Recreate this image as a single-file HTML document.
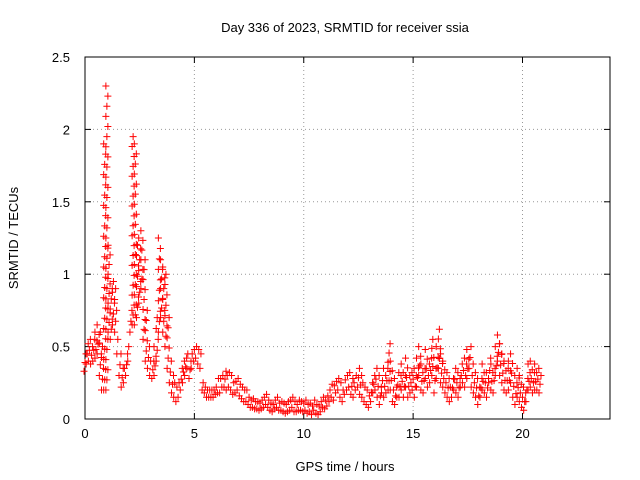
<!DOCTYPE html>
<html><head><meta charset="utf-8"><style>
body{margin:0;background:#fff}
svg{display:block;font-family:"Liberation Sans",sans-serif;font-size:13px}
</style></head><body>
<svg id="chart" width="640" height="480">
<text x="345" y="32" text-anchor="middle">Day 336 of 2023, SRMTID for receiver ssia</text>
<text x="345" y="471" text-anchor="middle">GPS time / hours</text>
<text transform="translate(18,238) rotate(-90)" text-anchor="middle">SRMTID / TECUs</text>
<g id="grid"></g><g id="axes"></g><g id="pts"></g>
</svg>
<script>
const xTicks=[0,5,10,15,20];
const yTicks=[0,0.5,1,1.5,2,2.5];
const yTickLabels=["0","0.5","1","1.5","2","2.5"];
const tStart=0, tStep=0.1;
const lowValues=[
0.33,0.38,0.4,0.38,0.4,0.42,0.45,0.3,0.2,0.2,
0.2,0.6,0.55,0.65,0.6,0.45,0.3,0.22,0.25,0.3,
0.4,0.6,0.65,0.65,0.7,0.8,0.9,0.55,0.4,0.35,
0.3,0.28,0.3,0.4,0.6,0.7,0.6,0.5,0.35,0.25,
0.18,0.15,0.12,0.15,0.2,0.25,0.3,0.35,0.28,0.35,
0.4,0.42,0.38,0.35,0.2,0.18,0.15,0.15,0.15,0.15,
0.17,0.18,0.18,0.22,0.22,0.2,0.22,0.2,0.17,0.18,
0.2,0.16,0.14,0.12,0.12,0.1,0.08,0.08,0.07,0.07,
0.06,0.07,0.08,0.1,0.08,0.06,0.05,0.07,0.08,0.06,
0.06,0.05,0.04,0.05,0.06,0.08,0.05,0.05,0.06,0.06,
0.05,0.06,0.04,0.05,0.03,0.06,0.04,0.03,0.05,0.08,
0.07,0.09,0.12,0.15,0.13,0.18,0.2,0.15,0.12,0.17,
0.2,0.22,0.17,0.15,0.2,0.22,0.17,0.15,0.12,0.1,
0.08,0.12,0.18,0.2,0.15,0.1,0.18,0.15,0.18,0.2,
0.2,0.12,0.1,0.15,0.15,0.2,0.15,0.22,0.15,0.18,
0.2,0.15,0.22,0.3,0.2,0.18,0.28,0.22,0.25,0.3,
0.18,0.28,0.35,0.25,0.22,0.18,0.15,0.12,0.15,0.2,
0.18,0.15,0.22,0.25,0.22,0.28,0.35,0.22,0.18,0.15,
0.1,0.15,0.2,0.18,0.15,0.25,0.2,0.18,0.3,0.4,
0.3,0.25,0.2,0.18,0.2,0.25,0.15,0.1,0.15,0.12,
0.08,0.06,0.12,0.2,0.22,0.18,0.2,0.2,0.18];
const highValues=[
0.45,0.52,0.55,0.5,0.55,0.6,0.65,0.6,0.5,1.9,
2.3,1.2,0.9,0.95,0.9,0.55,0.45,0.35,0.35,0.45,
0.5,0.75,1.95,1.9,1.2,1.25,1.3,1.1,0.75,0.5,
0.4,0.4,0.5,0.7,1.25,1.1,1.05,1.0,0.7,0.4,
0.3,0.25,0.22,0.25,0.35,0.4,0.42,0.45,0.4,0.45,
0.48,0.5,0.48,0.45,0.25,0.22,0.2,0.2,0.2,0.2,
0.22,0.28,0.28,0.3,0.33,0.3,0.32,0.3,0.25,0.26,
0.28,0.24,0.22,0.2,0.2,0.15,0.13,0.14,0.12,0.12,
0.11,0.13,0.15,0.17,0.13,0.11,0.1,0.13,0.15,0.11,
0.12,0.11,0.1,0.12,0.13,0.15,0.12,0.1,0.13,0.12,
0.11,0.13,0.1,0.11,0.09,0.13,0.1,0.09,0.12,0.15,
0.13,0.16,0.2,0.24,0.23,0.26,0.28,0.25,0.2,0.27,
0.3,0.32,0.28,0.25,0.3,0.35,0.3,0.25,0.22,0.2,
0.16,0.25,0.3,0.35,0.3,0.22,0.35,0.3,0.35,0.52,
0.4,0.28,0.22,0.32,0.3,0.38,0.3,0.42,0.3,0.32,
0.35,0.3,0.42,0.5,0.38,0.35,0.48,0.38,0.42,0.55,
0.35,0.5,0.62,0.45,0.4,0.32,0.28,0.22,0.28,0.35,
0.32,0.28,0.38,0.42,0.38,0.48,0.5,0.38,0.32,0.28,
0.22,0.28,0.38,0.32,0.28,0.42,0.38,0.35,0.5,0.58,
0.52,0.45,0.4,0.35,0.4,0.45,0.3,0.25,0.35,0.3,
0.22,0.18,0.28,0.38,0.4,0.32,0.38,0.35,0.3];
const X0=85,X1=610,Y0=419,Y1=57;
const xs=v=>X0+(v/24)*(X1-X0);
const ys=v=>Y0-(v/2.5)*(Y0-Y1);
const NS="http://www.w3.org/2000/svg";
function mk(tag,attrs,parent){const e=document.createElementNS(NS,tag);for(const k in attrs)e.setAttribute(k,attrs[k]);parent.appendChild(e);return e;}
const grid=document.getElementById('grid'),axes=document.getElementById('axes'),pts=document.getElementById('pts');
xTicks.forEach(t=>{
  const x=xs(t);
  if(t>0){const g=mk('line',{x1:x,x2:x,y1:Y0,y2:Y1,stroke:'#999','stroke-dasharray':'1,3'},grid);
  
  }
  mk('line',{x1:x,x2:x,y1:Y0,y2:Y0-6,stroke:'#000'},axes);
  mk('line',{x1:x,x2:x,y1:Y1,y2:Y1+6,stroke:'#000'},axes);
  const l=mk('text',{x:x,y:Y0+19,'text-anchor':'middle'},axes);l.textContent=t;
  
  
});
yTicks.forEach((t,i)=>{
  const y=ys(t);
  if(t>0&&t<2.5){const g=mk('line',{x1:X0,x2:X1,y1:y,y2:y,stroke:'#999','stroke-dasharray':'1,3'},grid);
  
  }
  mk('line',{x1:X0,x2:X0+6,y1:y,y2:y,stroke:'#000'},axes);
  mk('line',{x1:X1,x2:X1-6,y1:y,y2:y,stroke:'#000'},axes);
  const l=mk('text',{x:70,y:y+5,'text-anchor':'end'},axes);l.textContent=yTickLabels[i];
  
  
});
const fr=mk('rect',{x:X0,y:Y1,width:X1-X0,height:Y0-Y1,fill:'none',stroke:'#000'},axes);


function plus(x,y){
  const p=mk('path',{d:`M${x-3.5},${y}h7M${x},${y-3.5}v7`,stroke:'#f00','stroke-width':1,fill:'none'},pts);
  
  
}
lowValues.forEach((lo,i)=>{
  const hi=highValues[i];
  const x=xs(tStart+i*tStep);
  const n=Math.max(1,Math.round((hi-lo)/0.07));
  for(let k=0;k<=n;k++){
    const v=lo+(hi-lo)*k/n;
    plus(x+((k%3)-1),ys(v));
  }
});
</script>
</body></html>
